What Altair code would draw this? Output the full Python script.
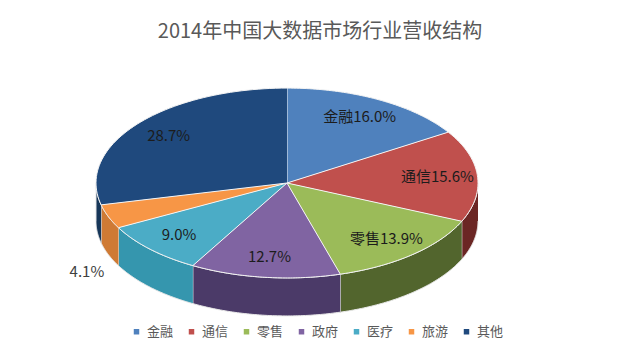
import altair as alt
import pandas as pd

categories = ["金融", "通信", "零售", "政府", "医疗", "旅游", "其他"]
values = [16.0, 15.6, 13.9, 12.7, 9.0, 4.1, 28.7]
name_in_label = [True, True, True, False, False, False, False]
top_colors = ["#4F81BD", "#C0504D", "#9BBB59", "#8064A2", "#4BACC6", "#F79646", "#1F497D"]
side_colors = ["#2f5079", "#6b2624", "#52652d", "#4b3a68", "#3596ae", "#cf7a34", "#163659"]

df = pd.DataFrame({
    "category": categories,
    "value": values,
    "idx": list(range(len(categories))),
    "side": side_colors,
    "showname": name_in_label,
})

B = 0.497   # vertical squash of the top ellipse (x radius = 1)
H = 0.199   # thickness of the pie
N = 60      # points per arc
FONT = "Noto Sans CJK SC"

X = alt.X("px:Q", scale=alt.Scale(domain=[-1.4607, 1.8063], nice=False, zero=False), axis=None)
Y = alt.Y("py:Q", scale=alt.Scale(domain=[-0.8953, 0.6021], nice=False, zero=False), axis=None)

base = alt.Chart(df).transform_window(
    cum="sum(value)", sort=[alt.SortField("idx")], frame=[None, 0]
).transform_calculate(
    t0="(datum.cum - datum.value) / 100 * 2 * PI",
    t1="datum.cum / 100 * 2 * PI",
)

top = base.transform_calculate(
    steps=f"sequence(-1, {N + 1})"
).transform_flatten(["steps"], as_=["k"]).transform_calculate(
    t=f"datum.t0 + (datum.t1 - datum.t0) * datum.k / {N}"
).transform_calculate(
    px="datum.k < 0 ? 0 : sin(datum.t)",
    py=f"datum.k < 0 ? 0 : {B} * cos(datum.t)",
).mark_line(filled=True, stroke="#f4f4f4", strokeWidth=1, strokeJoin="round").encode(
    x=X, y=Y, order=alt.Order("k:Q"),
    fill=alt.Fill(
        "category:N",
        scale=alt.Scale(domain=categories, range=top_colors),
        sort=categories,
        legend=alt.Legend(
            orient="none", legendX=122, legendY=257, direction="horizontal",
            title=None, symbolType="square", symbolSize=30, symbolStrokeWidth=0,
            labelFontSize=13, labelFont=FONT, labelColor="#595959",
            columnPadding=11, labelOffset=4,
        ),
    ),
)

side = base.transform_calculate(
    lo="max(datum.t0, PI / 2)", hi="min(datum.t1, 3 * PI / 2)"
).transform_filter("datum.lo < datum.hi").transform_calculate(
    steps=f"sequence(0, {2 * N + 2})"
).transform_flatten(["steps"], as_=["k"]).transform_calculate(
    u=f"datum.k <= {N} ? datum.k / {N} : ({2 * N + 1} - datum.k) / {N}"
).transform_calculate(
    t="datum.lo + (datum.hi - datum.lo) * datum.u"
).transform_calculate(
    px="sin(datum.t)",
    py=f"{B} * cos(datum.t) - (datum.k <= {N} ? 0 : {H})",
).mark_line(filled=True, stroke="#e8e8e8", strokeWidth=1, strokeJoin="round").encode(
    x=X, y=Y, order=alt.Order("k:Q"),
    fill=alt.Fill("side:N", scale=None),
    detail="category:N",
)

labels = base.transform_calculate(
    tm="(datum.t0 + datum.t1) / 2",
    outside="datum.value < 5",
    label="(datum.showname ? datum.category : '') + format(datum.value, '.1f') + '%'",
).transform_calculate(
    px="datum.outside ? 1.12 * sin(datum.tm) : 0.79 * sin(datum.tm)",
    py=f"datum.outside ? 1.12 * {B} * cos(datum.tm) - {H} - 0.07 : 0.79 * {B} * cos(datum.tm)",
).mark_text(font=FONT, fontSize=15).encode(
    x=X, y=Y, text="label:N",
    color=alt.condition("datum.outside", alt.value("#404040"), alt.value("#1c1c1c")),
)

chart = alt.layer(side, top, labels).resolve_scale(fill="independent").properties(
    width=624,
    height=286,
    padding={"left": 0, "top": 60, "right": 0, "bottom": 0},
    autosize=alt.AutoSizeParams(type="none"),
    title=alt.TitleParams(
        "2014年中国大数据市场行业营收结构", fontSize=20, font=FONT,
        color="#595959", fontWeight="normal", anchor="middle", offset=26,
    ),
).configure_view(stroke=None)

chart.save("out.html", embed_options={"renderer": "svg", "actions": False})
